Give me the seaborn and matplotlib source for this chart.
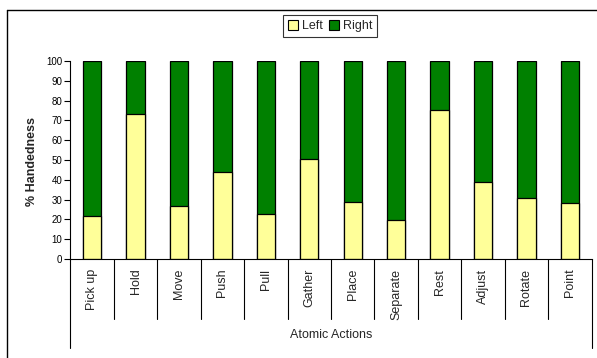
import matplotlib
matplotlib.use("Agg")
import matplotlib.pyplot as plt
import matplotlib.patches as mpatches
import matplotlib.lines as mlines
import matplotlib.transforms as mtransforms
import pandas as pd
import seaborn as sns

actions = ["Pick up", "Hold", "Move", "Push", "Pull", "Gather", "Place",
           "Separate", "Rest", "Adjust", "Rotate", "Point"]
left_pct = [21.5, 73.4, 26.9, 43.9, 22.6, 50.4, 28.7, 19.8, 75.2, 39.0, 30.6, 28.2]
right_pct = [100 - v for v in left_pct]
y_ticks = list(range(0, 101, 10))

LEFT_COLOR = "#FFFF99"
RIGHT_COLOR = "#008000"

sns.set_style("white")
plt.rcParams["font.family"] = ["Liberation Sans", "DejaVu Sans"]

df = pd.DataFrame({"action": actions, "left": left_pct, "right": right_pct})
df["total"] = df["left"] + df["right"]

fig = plt.figure(figsize=(5.97, 3.58), dpi=100)
ax = fig.add_axes([0.118, 0.2765, 0.873, 0.553])

# Stacked bars: full stack (Right on top) first, then the Left share over it
sns.barplot(data=df, x="action", y="total", color=RIGHT_COLOR, saturation=1,
            width=0.42, edgecolor="black", linewidth=0.9, ax=ax)
sns.barplot(data=df, x="action", y="left", color=LEFT_COLOR, saturation=1,
            width=0.42, edgecolor="black", linewidth=0.9, ax=ax)

ax.set_ylim(0, 100)
ax.set_xlim(-0.5, len(actions) - 0.5)
ax.set_yticks(y_ticks)
ax.tick_params(axis="y", labelsize=7, length=4, width=0.8, direction="out",
               left=True, pad=2, colors="black")
ax.tick_params(axis="x", labelsize=9, length=0, pad=7, labelrotation=90)
for lab in ax.get_xticklabels():
    lab.set_va("top")
ax.set_ylabel("")
ax.set_xlabel("")
fig.text(32 / 597, 1 - 162 / 358, "% Handedness", rotation=90, ha="center",
         va="center", fontsize=9, fontweight="bold")

for side in ("top", "right"):
    ax.spines[side].set_visible(False)
for side in ("left", "bottom"):
    ax.spines[side].set_color("black")
    ax.spines[side].set_linewidth(0.8)

# Category separators below the axis
trans = mtransforms.blended_transform_factory(ax.transData, ax.transAxes)
n = len(actions)
for i in range(n + 1):
    xb = i - 0.5
    y_end = -0.447 if i in (0, n) else -0.303
    ax.plot([xb, xb], [0, y_end], color="black", lw=0.8, transform=trans,
            clip_on=False)
ax.text(0.5, -0.385, "Atomic Actions", transform=ax.transAxes, ha="center",
        va="center", fontsize=9)

# Legend
handles = [mpatches.Patch(facecolor=LEFT_COLOR, edgecolor="black", lw=0.8, label="Left"),
           mpatches.Patch(facecolor=RIGHT_COLOR, edgecolor="black", lw=0.8, label="Right")]
leg = fig.legend(handles=handles, loc="center", bbox_to_anchor=(330 / 597, 1 - 26 / 358),
                 ncol=2, fontsize=9, frameon=True, fancybox=False,
                 handlelength=0.8, handleheight=0.8, handletextpad=0.3,
                 columnspacing=0.5, borderpad=0.4, borderaxespad=0)
leg.get_frame().set_edgecolor("black")
leg.get_frame().set_linewidth(0.8)

# Chart frame: top and left edges
x0, y0 = 6.5 / 597, 1 - 10 / 358
fig.add_artist(mlines.Line2D([x0, 1.0], [y0, y0], transform=fig.transFigure,
                             color="black", lw=1.0))
fig.add_artist(mlines.Line2D([x0, x0], [0.0, y0], transform=fig.transFigure,
                             color="black", lw=1.0))

fig.savefig("out.png", dpi=100)
